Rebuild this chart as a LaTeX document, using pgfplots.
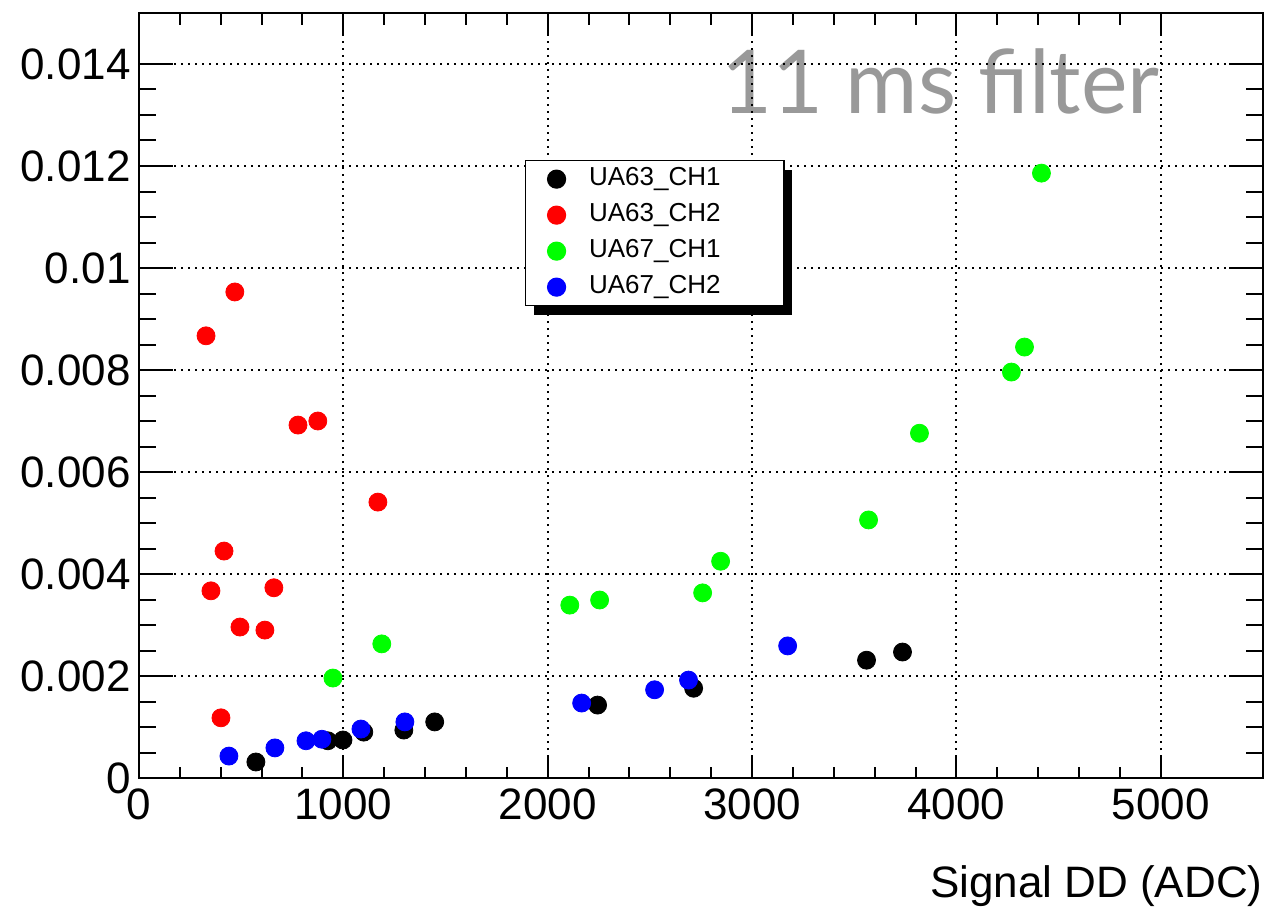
\documentclass[border=0pt]{standalone}
\usepackage{fontspec}
\setmainfont{Liberation Sans}
\newfontfamily\titlefont{Lato}
\usepackage{pgfplots}
\pgfplotsset{compat=1.18}
\usetikzlibrary{shadows}
\begin{document}
\begin{tikzpicture}
\useasboundingbox (-69.5pt,-66.5pt) rectangle (564.5pt,389pt);
\node[anchor=base east, text=black!40, font=\titlefont\fontsize{44}{48}\selectfont, inner sep=0pt] at (510.5pt,332pt) {11 ms filter};
\begin{axis}[
  at={(0,0)}, anchor=south west, scale only axis,
  width=562pt, height=382.5pt,
  xmin=0, xmax=5500, ymin=0, ymax=0.015,
  xtick={0,1000,2000,3000,4000,5000},
  xticklabels={0,1000,2000,3000,4000,5000},
  ytick={0,0.002,0.004,0.006,0.008,0.01,0.012,0.014},
  yticklabels={0,0.002,0.004,0.006,0.008,0.01,0.012,0.014},
  minor x tick num=4,
  grid=major,
  major grid style={black, line width=1pt, dash pattern=on 1pt off 2.5pt},
  tick align=inside,
  major tick length=11.5pt, minor tick length=5.75pt,
  xtick style={black, line width=1pt},
  ytick style={draw=none},
  axis line style={line width=1pt},
  tick label style={font=\fontsize{22}{26}\selectfont},
  yticklabel style={inner sep=0pt, xshift=-4pt},
  xticklabel style={inner sep=0pt, yshift=-5pt},
  xlabel={Signal DD (ADC)},
  xlabel style={at={(axis description cs:1,0)}, anchor=base east, yshift=-59.5pt, inner sep=0pt, font=\fontsize{22}{26}\selectfont},
  legend style={at={(0.3434,0.8078)}, anchor=north west, draw=black, line width=0.6pt, fill=white,
    font=\fontsize{13}{15}\selectfont, legend cell align=left,
    inner xsep=11pt, inner ysep=0.25pt,
    nodes={text height=9.5pt, text depth=3pt, inner sep=2.75pt},
    drop shadow={shadow xshift=4pt, shadow yshift=-4.5pt, fill=black, opacity=1}},
]
\addplot[only marks, mark=*, mark size=4.5pt, color=black] coordinates {
(572,0.000314) (924,0.00073) (998,0.000745) (1100,0.0009) (1296,0.00094) (1447,0.0011)
(2244,0.00143) (2714,0.00176) (3560,0.00231) (3736,0.00247)};
\addlegendentry{\hspace*{9pt}UA63\_CH1\hspace*{18pt}}
\addplot[only marks, mark=*, mark size=4.5pt, color=red] coordinates {
(328,0.00867) (469,0.00953) (778,0.00692) (875,0.0070) (1169,0.00541) (416,0.00445)
(352,0.00367) (660,0.00373) (494,0.00296) (616,0.0029) (401,0.00118)};
\addlegendentry{\hspace*{9pt}UA63\_CH2\hspace*{18pt}}
\addplot[only marks, mark=*, mark size=4.5pt, color=green] coordinates {
(949,0.00196) (1188,0.00263) (2108,0.00339) (2254,0.00349) (2758,0.00363) (2846,0.00425)
(3570,0.00506) (3819,0.00676) (4269,0.00796) (4333,0.00845) (4416,0.01186)};
\addlegendentry{\hspace*{9pt}UA67\_CH1\hspace*{18pt}}
\addplot[only marks, mark=*, mark size=4.5pt, color=blue] coordinates {
(440,0.00043) (665,0.00059) (817,0.00073) (895,0.00076) (1086,0.00096) (1301,0.0011)
(2166,0.00147) (2523,0.00173) (2689,0.00192) (3174,0.00259)};
\addlegendentry{\hspace*{9pt}UA67\_CH2\hspace*{18pt}}
\end{axis}
\begin{axis}[
  at={(0,0)}, anchor=south west, scale only axis,
  width=562pt, height=382.5pt,
  xmin=0, xmax=5500, ymin=0, ymax=0.015,
  xtick=\empty,
  ytick={0,0.002,0.004,0.006,0.008,0.01,0.012,0.014},
  yticklabel=\empty,
  minor y tick num=3,
  tick align=inside,
  major tick length=17pt, minor tick length=8.5pt,
  ytick style={black, line width=1pt},
  axis line style={line width=1pt},
]
\end{axis}
\end{tikzpicture}
\end{document}
